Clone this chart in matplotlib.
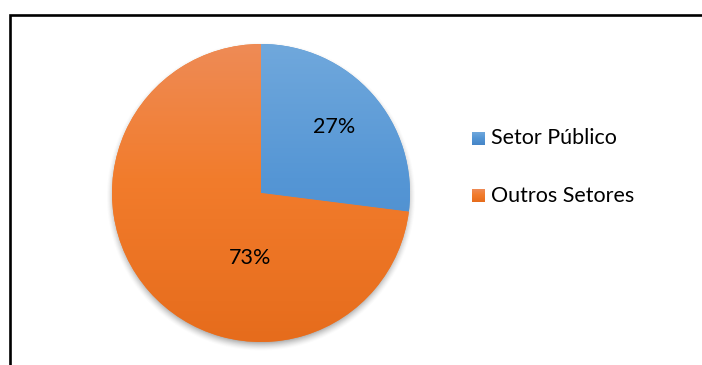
import numpy as np
import matplotlib.pyplot as plt
from matplotlib.colors import to_rgb

categories = ["Setor Público", "Outros Setores"]
shares = [27, 73]
top_colors = ["#70A8DC", "#EE8B56"]
mid_colors = ["#5596D5", "#F27C2C"]
bottom_colors = ["#4585C7", "#E66C1C"]

W, H = 702, 365
fig = plt.figure(figsize=(W / 100, H / 100), dpi=100)
ax = fig.add_axes([0, 0, 1, 1])

cx, cy, r = 261, 172, 149


def vgradient(top, mid, bottom, n=256):
    """Three-stop vertical gradient; row 0 is the bottom (origin='lower')."""
    t = np.linspace(0, 1, n)
    stops = np.array([0.0, 0.55, 1.0])
    cols = np.array([to_rgb(bottom), to_rgb(mid), to_rgb(top)])
    out = np.stack([np.interp(t, stops, cols[:, k]) for k in range(3)], axis=-1)
    return out[:, None, :]


# soft drop shadow under the pie
ext = r + 20
xs = np.linspace(cx - ext, cx + ext, 500)
ys = np.linspace(cy - ext, cy + ext, 500)
X, Y = np.meshgrid(xs, ys)
d = np.hypot(X - cx, Y - (cy - 3.5))
alpha = np.clip((r + 6 - d) / 11, 0, 1) ** 1.5 * 0.6
shadow = np.zeros(X.shape + (4,))
shadow[..., :3] = 0.3
shadow[..., 3] = alpha
ax.imshow(shadow, extent=(xs[0], xs[-1], ys[0], ys[-1]), origin="lower",
          zorder=1, interpolation="bilinear")

wedges, _ = ax.pie(shares, center=(cx, cy), radius=r, startangle=90,
                   counterclock=False, colors=mid_colors, frame=True,
                   wedgeprops=dict(linewidth=0))

for w, ct, cm, cb in zip(wedges, top_colors, mid_colors, bottom_colors):
    w.set_zorder(2)
    im = ax.imshow(vgradient(ct, cm, cb), extent=(cx - r, cx + r, cy - r, cy + r),
                   origin="lower", zorder=3, aspect="auto",
                   interpolation="bilinear")
    im.set_clip_path(w)

# percentage labels
label_pos = [(334, H - 127), (250, H - 257.5)]
for (lx, ly), v in zip(label_pos, shares):
    ax.text(lx, ly, f"{v}%", ha="center", va="center", fontsize=15.5,
            family="Lato", color="black", zorder=5)

# legend
key_x, key_s = 472, 13
rows_y = [H - 138.5, H - 196]
for name, ct, cm, cb, ky in zip(categories, top_colors, mid_colors, bottom_colors, rows_y):
    ax.imshow(vgradient(ct, cm, cb),
              extent=(key_x, key_x + key_s, ky - key_s / 2, ky + key_s / 2),
              origin="lower", zorder=5, aspect="auto", interpolation="bilinear")
    ax.text(key_x + key_s + 6, ky, name, ha="left", va="center", fontsize=15.5,
            family="Lato", color="black", zorder=5)

# chart frame (top and left edges visible)
ax.plot([9.5, 9.5, W + 5], [-5, H - 15, H - 15], color="black", lw=1.9,
        solid_joinstyle="miter", zorder=6, clip_on=False)

ax.set_xlim(0, W)
ax.set_ylim(0, H)
ax.set_aspect("auto")
ax.axis("off")

fig.savefig("out.png", dpi=100, facecolor="white")
